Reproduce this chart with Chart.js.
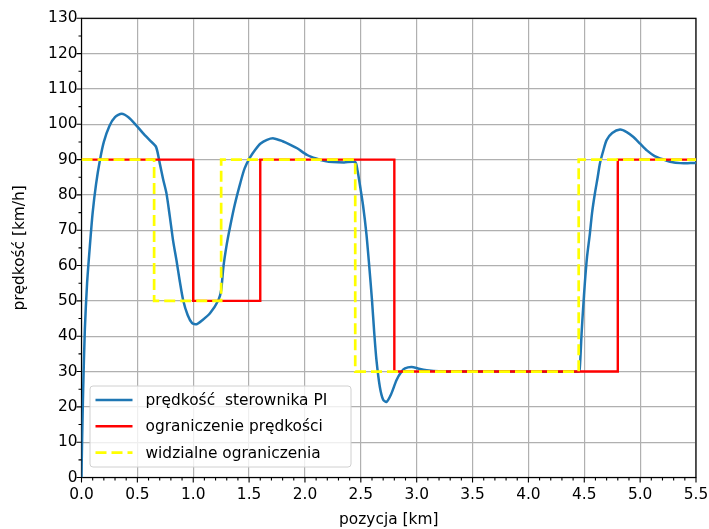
<!DOCTYPE html>
<html>
<head>
<meta charset="utf-8">
<script src="https://cdn.jsdelivr.net/npm/chart.js@4.4.1/dist/chart.umd.min.js"></script>
<style>
  html, body { margin: 0; padding: 0; background: #fff; }
</style>
</head>
<body>
<canvas id="speedChart" width="709" height="529"></canvas>
<script>
// Predkosc sterownika PI
const positionKm = [0.00, 0.005, 0.015, 0.03, 0.05, 0.076, 0.10, 0.13, 0.166, 0.20, 0.25, 0.30, 0.36, 0.42, 0.49, 0.55, 0.61, 0.667,
  0.70, 0.73, 0.76, 0.79, 0.82, 0.85, 0.88, 0.91, 0.95, 0.99, 1.03, 1.08, 1.15, 1.225, 1.25, 1.27, 1.30, 1.33, 1.37, 1.42,
  1.46, 1.51, 1.56, 1.60, 1.66, 1.72, 1.80, 1.87, 1.93, 2.02, 2.10, 2.18, 2.25, 2.35, 2.45, 2.47, 2.49, 2.52, 2.55, 2.575,
  2.60, 2.62, 2.64, 2.67, 2.70, 2.73, 2.77, 2.82, 2.86, 2.895, 2.955, 3.02, 3.09, 3.20, 3.50, 4.00, 4.45, 4.46, 4.476,
  4.49, 4.505, 4.525, 4.55, 4.57, 4.595, 4.62, 4.64, 4.67, 4.70, 4.75, 4.82, 4.88, 4.94, 5.00, 5.06, 5.13, 5.21, 5.28,
  5.36, 5.45, 5.50];
const speedPI = [0, 10, 25, 42, 55, 66, 75, 83, 90, 95, 99.5, 102, 103, 102, 99.7, 97.5, 95.5, 93.6,
  89, 84.5, 80.5, 74, 67, 61.5, 55.5, 50.2, 46, 43.7, 43.4, 44.5, 46.5, 50.2, 53, 59.6, 66, 71, 77, 83.2,
  87.5, 90.7, 93, 94.5, 95.6, 96, 95.2, 94.2, 93.2, 91.3, 90.3, 89.6, 89.3, 89.2, 89.3, 87, 83.2, 77, 69, 60,
  50.2, 41, 33.2, 25.7, 22, 21.4, 23.5, 27.6, 29.8, 30.9, 31.3, 30.8, 30.4, 30.1, 30, 30, 30, 31, 40.8,
  48, 55, 62.5, 69, 75, 80.4, 85, 88.9, 92.5, 95.5, 97.5, 98.5, 97.8, 96.4, 94.5, 92.6, 91, 90, 89.3,
  89, 89, 89];

// ograniczenia (schodkowe): wartosc obowiazuje od danej pozycji
const limitPos = [0, 1.0, 1.6, 2.8, 4.8, 5.5];
const limitVal = [90, 50, 90, 30, 90, 90];
const visiblePos = [0, 0.65, 1.25, 2.45, 4.45, 5.5];
const visibleVal = [90, 50, 90, 30, 90, 90];

const seriesLabels = ['prędkość  sterownika PI', 'ograniczenie prędkości', 'widzialne ograniczenia'];

const FONT = '"DejaVu Sans", sans-serif';
const toPoints = (xs, ys) => xs.map((x, i) => ({ x: x, y: ys[i] }));

// ramka osi + male podzialki (jak w matplotlib)
const axesFrame = {
  id: 'axesFrame',
  beforeDatasetsDraw(chart) {
    const { ctx, chartArea: a } = chart;
    ctx.save();
    ctx.strokeStyle = '#000';
    ctx.lineWidth = 1.2;
    ctx.strokeRect(a.left, a.top, a.right - a.left, a.bottom - a.top);
    ctx.restore();
  },
  afterDraw(chart) {
    const { ctx, chartArea: a, scales } = chart;
    ctx.save();
    ctx.strokeStyle = '#000';
    ctx.lineWidth = 1.1;
    ctx.beginPath();
    for (let i = 0; i <= 55; i++) {
      const px = scales.x.getPixelForValue(i / 10);
      const len = i % 5 === 0 ? 5 : 3;
      ctx.moveTo(px, a.bottom);
      ctx.lineTo(px, a.bottom + len);
    }
    for (let i = 0; i <= 26; i++) {
      const py = scales.y.getPixelForValue(i * 5);
      const len = i % 2 === 0 ? 5 : 3;
      ctx.moveTo(a.left, py);
      ctx.lineTo(a.left - len, py);
    }
    ctx.stroke();
    ctx.restore();
  }
};

// legenda w lewym dolnym rogu
const legendBox = {
  id: 'legendBox',
  afterDraw(chart) {
    const { ctx, chartArea: a } = chart;
    const x = a.left + 8.5, w = 261, h = 81;
    const y = a.bottom - 10.5 - h;
    ctx.save();
    ctx.beginPath();
    ctx.roundRect(x, y, w, h, 3);
    ctx.fillStyle = 'rgba(255,255,255,0.8)';
    ctx.fill();
    ctx.strokeStyle = '#d0d0d0';
    ctx.lineWidth = 1;
    ctx.stroke();
    ctx.font = '15.4px ' + FONT;
    ctx.textBaseline = 'middle';
    chart.data.datasets.forEach((ds, i) => {
      const ry = y + 14 + i * 26.3;
      ctx.beginPath();
      ctx.strokeStyle = ds.borderColor;
      ctx.lineWidth = ds.borderWidth;
      ctx.setLineDash(ds.borderDash || []);
      ctx.moveTo(x + 5.5, ry);
      ctx.lineTo(x + 42.5, ry);
      ctx.stroke();
      ctx.setLineDash([]);
      ctx.fillStyle = '#000';
      ctx.fillText(ds.label, x + 55.5, ry + 1);
    });
    ctx.restore();
  }
};

new Chart(document.getElementById('speedChart'), {
  type: 'scatter',
  data: {
    datasets: [
      {
        label: seriesLabels[0],
        data: toPoints(positionKm, speedPI),
        showLine: true,
        borderColor: '#1f77b4',
        borderWidth: 2.5,
        pointRadius: 0,
        tension: 0.25,
        order: 3
      },
      {
        label: seriesLabels[1],
        data: toPoints(limitPos, limitVal),
        showLine: true,
        stepped: true,
        borderColor: '#ff0000',
        borderWidth: 2.4,
        pointRadius: 0,
        order: 2
      },
      {
        label: seriesLabels[2],
        data: toPoints(visiblePos, visibleVal),
        showLine: true,
        stepped: true,
        borderColor: '#ffff00',
        borderWidth: 2.7,
        borderDash: [11, 5],
        pointRadius: 0,
        order: 1
      }
    ]
  },
  options: {
    responsive: false,
    animation: false,
    devicePixelRatio: 1,
    layout: { padding: { top: 18.3, right: 13, left: 0, bottom: 0 } },
    plugins: {
      legend: { display: false },
      tooltip: { enabled: false }
    },
    scales: {
      x: {
        type: 'linear',
        min: 0,
        max: 5.5,
        ticks: {
          stepSize: 0.5,
          autoSkip: false,
          maxRotation: 0,
          padding: 8,
          color: '#000',
          font: { family: FONT, size: 15.4 },
          callback: v => v.toFixed(1)
        },
        grid: { color: '#b0b0b0', lineWidth: 1.2, drawTicks: false },
        border: { display: false },
        title: {
          display: true,
          text: 'pozycja [km]',
          color: '#000',
          font: { family: FONT, size: 15.4 },
          padding: { top: 0, bottom: 0 }
        },
        afterFit: s => { s.height = 51.5; s.paddingLeft = 0; s.paddingRight = 0; }
      },
      y: {
        min: 0,
        max: 130,
        ticks: {
          stepSize: 10,
          autoSkip: false,
          padding: 4,
          color: '#000',
          font: { family: FONT, size: 15.4 }
        },
        grid: { color: '#b0b0b0', lineWidth: 1.2, drawTicks: false },
        border: { display: false },
        title: {
          display: true,
          text: 'prędkość [km/h]',
          color: '#000',
          font: { family: FONT, size: 15.4 },
          padding: { top: 11, bottom: 0 }
        },
        afterFit: s => { s.width = 81.5; s.paddingTop = 0; s.paddingBottom = 0; }
      }
    }
  },
  plugins: [axesFrame, legendBox]
});
</script>
</body>
</html>
